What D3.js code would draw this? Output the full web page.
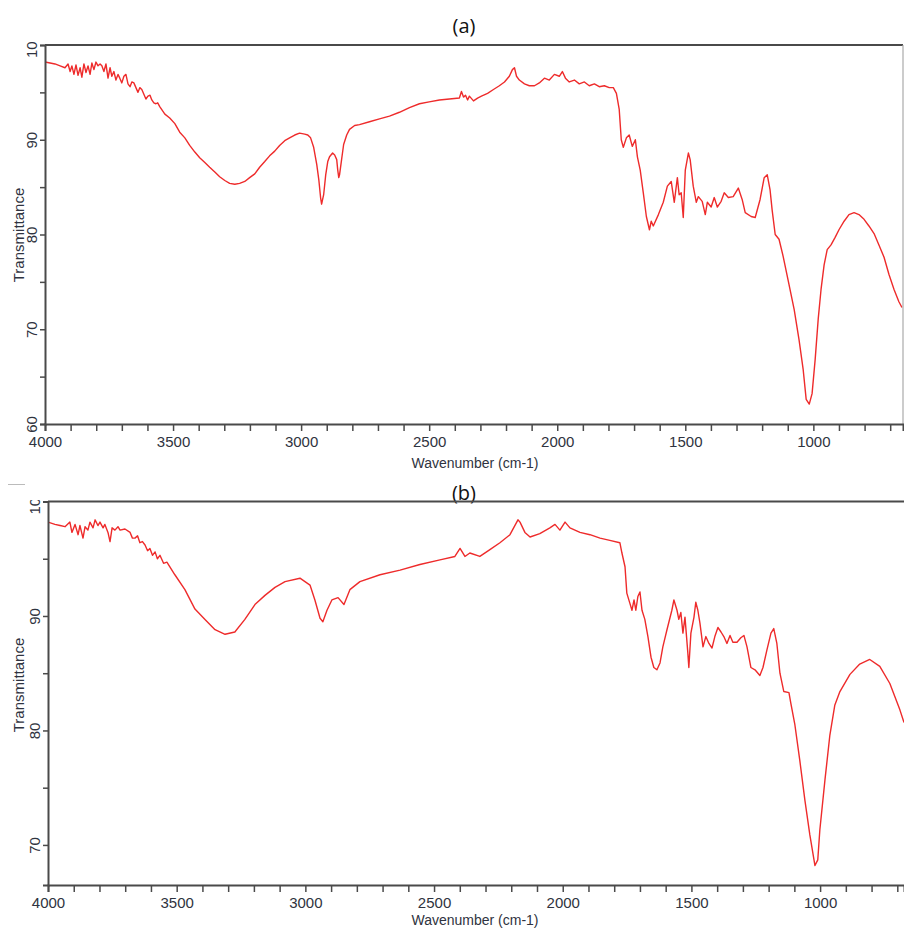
<!DOCTYPE html>
<html>
<head>
<meta charset="utf-8">
<script src="https://cdn.jsdelivr.net/npm/d3@7"></script>
<style>
  html, body { margin: 0; padding: 0; background: #fff; }
  svg { display: block; }
</style>
</head>
<body>
<svg id="chart" width="904" height="928"></svg>
<script>
// ---- Data ----
const wavenumberA = [4000,3980,3961,3941,3922,3910,3902,3895,3887,3879,3871,3863,3856,3848,3840,3832,3824,3817,3809,3801,3793,3785,3778,3770,3762,3754,3746,3739,3731,3723,3715,3708,3700,3692,3684,3676,3668,3661,3653,3645,3637,3630,3622,3614,3606,3598,3590,3583,3575,3567,3560,3552,3532,3513,3493,3474,3454,3435,3415,3396,3376,3357,3337,3318,3298,3279,3259,3240,3220,3201,3181,3162,3142,3123,3103,3084,3064,3045,3025,3006,2986,2974,2963,2951,2939,2931,2924,2920,2912,2904,2896,2889,2877,2869,2861,2857,2853,2850,2842,2834,2822,2811,2791,2772,2733,2694,2655,2616,2577,2538,2500,2460,2421,2382,2374,2366,2358,2350,2343,2327,2311,2296,2272,2249,2226,2206,2187,2175,2167,2159,2148,2128,2109,2089,2070,2050,2031,2011,1992,1980,1968,1953,1933,1914,1894,1875,1855,1836,1816,1797,1781,1769,1758,1750,1742,1730,1719,1707,1695,1687,1676,1664,1652,1640,1633,1625,1605,1586,1570,1555,1543,1531,1524,1516,1508,1500,1488,1481,1469,1457,1449,1434,1422,1414,1399,1387,1375,1360,1348,1332,1313,1293,1278,1266,1243,1227,1208,1192,1180,1169,1161,1149,1134,1118,1095,1075,1056,1040,1028,1016,1005,993,981,970,958,946,931,915,900,880,861,841,822,802,783,763,744,724,705,685,666,654];
const transmittanceA = [98.2,98.1,98.0,97.8,97.6,98.0,97.2,97.8,96.9,97.9,96.8,97.6,96.6,98.0,97.1,97.8,96.9,98.1,97.4,98.2,97.8,98.0,97.8,97.2,98.0,96.5,97.6,96.7,97.2,96.3,96.9,96.5,96.0,96.7,96.9,95.9,95.6,96.1,96.0,95.5,95.0,95.5,95.3,94.8,94.3,94.6,94.7,94.2,93.9,93.8,93.9,93.5,92.7,92.3,91.7,90.8,90.2,89.4,88.7,88.1,87.6,87.1,86.6,86.1,85.7,85.4,85.3,85.4,85.6,86.0,86.4,87.1,87.7,88.3,88.8,89.4,89.9,90.2,90.5,90.7,90.6,90.5,90.2,89.2,87.4,85.8,83.9,83.2,84.2,86.3,87.7,88.2,88.6,88.4,87.9,86.8,86.0,86.3,87.9,89.5,90.5,91.1,91.5,91.6,91.9,92.2,92.5,92.9,93.4,93.8,94.0,94.2,94.3,94.4,95.1,94.5,94.7,94.2,94.6,94.1,94.4,94.6,94.9,95.3,95.7,96.1,96.7,97.4,97.6,96.7,96.3,95.9,95.7,95.7,96.0,96.5,96.3,96.9,96.7,97.2,96.5,96.1,96.3,95.9,96.1,95.7,95.9,95.6,95.7,95.5,95.5,94.9,93.2,90.0,89.2,90.2,90.5,89.3,90.0,88.2,86.8,84.4,81.9,80.5,81.4,80.9,82.1,83.4,85.1,85.6,83.4,86.0,84.2,84.4,81.8,86.8,88.6,87.9,85.1,83.4,84.0,83.5,82.1,83.4,82.9,83.9,82.9,83.5,84.4,83.9,84.0,84.9,83.7,82.3,81.9,81.8,83.7,86.0,86.3,84.7,82.6,80.0,79.5,77.7,74.7,72.1,68.9,65.8,62.6,62.1,63.2,66.8,71.1,74.2,76.8,78.4,78.9,79.7,80.5,81.4,82.1,82.3,82.1,81.6,80.9,80.1,78.9,77.6,75.8,74.2,72.9,72.3];

const wavenumberB = [4000,3973,3953,3934,3915,3907,3895,3883,3876,3864,3856,3845,3837,3825,3817,3806,3798,3786,3779,3767,3759,3751,3740,3728,3720,3701,3681,3672,3662,3652,3643,3633,3623,3613,3604,3594,3584,3575,3565,3551,3538,3507,3468,3429,3390,3351,3312,3274,3235,3196,3157,3118,3079,3021,2982,2963,2943,2932,2916,2897,2873,2850,2827,2788,2710,2632,2555,2477,2419,2399,2380,2361,2322,2283,2244,2205,2174,2166,2147,2127,2089,2050,2030,2011,1991,1972,1933,1894,1855,1817,1778,1770,1758,1751,1739,1731,1723,1716,1708,1700,1692,1681,1669,1657,1646,1634,1622,1611,1595,1576,1568,1556,1549,1541,1533,1525,1514,1510,1502,1490,1483,1475,1467,1455,1444,1432,1420,1409,1397,1385,1374,1362,1350,1339,1323,1308,1296,1284,1269,1253,1234,1222,1207,1191,1180,1168,1156,1141,1121,1114,1098,1079,1059,1040,1020,1009,1001,981,962,943,923,884,846,807,768,729,690,674];
const transmittanceB = [98.2,98.0,97.9,97.8,98.2,97.3,98.0,97.1,97.9,96.8,97.8,97.5,98.2,97.7,98.4,97.9,98.2,97.7,98.0,97.3,96.5,97.7,97.5,97.8,97.5,97.6,97.3,96.8,96.8,97.0,96.4,96.5,96.2,95.7,95.9,95.3,95.6,95.0,95.3,94.6,94.7,93.6,92.3,90.6,89.7,88.8,88.4,88.6,89.7,91.0,91.8,92.5,93.0,93.3,92.7,91.4,89.8,89.5,90.5,91.4,91.6,91.0,92.3,93.0,93.6,94.0,94.5,94.9,95.2,95.9,95.2,95.5,95.2,95.8,96.4,97.1,98.4,98.2,97.3,96.9,97.2,97.7,98.0,97.5,98.2,97.7,97.3,97.1,96.8,96.6,96.4,95.5,94.3,92.0,91.1,90.5,91.4,90.5,91.7,92.1,90.5,89.7,88.2,86.4,85.5,85.3,85.9,87.3,88.8,90.5,91.4,90.5,89.7,90.3,88.5,89.9,86.8,85.5,88.5,89.9,91.2,90.5,89.4,87.3,88.2,87.6,87.2,88.2,89.0,88.6,88.2,87.6,88.3,87.7,87.7,88.1,88.3,87.3,85.5,85.3,84.8,85.5,87.0,88.5,88.9,87.6,85.0,83.4,83.3,82.4,80.5,77.4,73.9,70.9,68.2,68.7,71.3,75.7,79.6,82.2,83.4,84.9,85.8,86.2,85.6,84.1,81.8,80.7];

const xTickValues = [4000,3900,3800,3700,3600,3500,3400,3300,3200,3100,3000,2900,2800,2700,2600,2500,2400,2300,2200,2100,2000,1900,1800,1700,1600,1500,1400,1300,1200,1100,1000,900,800,700];
const xTickLabels = [4000,3500,3000,2500,2000,1500,1000];
const yTickValuesA = [60,65,70,75,80,85,90,95,100];
const yTickValuesB = [70,75,80,85,90,95,100];
const yTickLabels = [60,70,80,90,100];
const panelTitles = ["(a)","(b)"];
const xAxisTitle = "Wavenumber (cm-1)";
const yAxisTitle = "Transmittance";

// ---- Layout ----
const svg = d3.select("#chart");
const lineColor = "#ee2b2b";
const axisColor = "#4a4a4a";
const labelColor = "#2f3340";

const panels = [
  { id: "a", wn: wavenumberA, tr: transmittanceA, title: panelTitles[0],
    left: 45, right: 903, top: 45, bottom: 424, xDom: [4000, 650], yDom: [60, 100],
    yTicks: yTickValuesA, clipTop: 42, titleY: 33, xTitleY: 468, yTitleY: 235, rightBorder: true },
  { id: "b", wn: wavenumberB, tr: transmittanceB, title: panelTitles[1],
    left: 48, right: 904, top: 501.5, bottom: 885, xDom: [4000, 674], yDom: [66.5, 100],
    yTicks: yTickValuesB, clipTop: 500, titleY: 500, xTitleY: 925, yTitleY: 685, rightBorder: false }
];

svg.append("line").attr("x1", 8).attr("x2", 25).attr("y1", 484.5).attr("y2", 484.5)
  .attr("stroke", "#bbb").attr("stroke-width", 1);

panels.forEach(p => {
  const x = d3.scaleLinear().domain(p.xDom).range([p.left, p.right]);
  const y = d3.scaleLinear().domain(p.yDom).range([p.bottom, p.top]);
  const g = svg.append("g");

  // title
  g.append("text").attr("x", 464).attr("y", p.titleY).attr("text-anchor", "middle")
    .attr("font-family", "'Open Sans', 'Noto Sans', sans-serif").attr("font-size", 20)
    .attr("fill", "#111").text(p.title);

  // clip for data
  const clipId = "clip-" + p.id;
  svg.append("clipPath").attr("id", clipId).append("rect")
    .attr("x", p.left).attr("y", p.top - 2).attr("width", p.right - p.left + 2).attr("height", p.bottom - p.top + 2);

  // spectrum line
  const pts = p.wn.map((w, i) => [w, p.tr[i]]);
  g.append("path").datum(pts)
    .attr("clip-path", `url(#${clipId})`)
    .attr("fill", "none").attr("stroke", lineColor).attr("stroke-width", 1.4)
    .attr("stroke-linejoin", "round")
    .attr("d", d3.line().x(d => x(d[0])).y(d => y(d[1])));

  // top border
  g.append("line").attr("x1", p.left).attr("x2", p.right).attr("y1", p.top).attr("y2", p.top)
    .attr("stroke", axisColor).attr("stroke-width", 2);
  if (p.rightBorder) {
    g.append("line").attr("x1", p.right).attr("x2", p.right).attr("y1", p.top).attr("y2", p.bottom)
      .attr("stroke", "#aaa").attr("stroke-width", 1.2);
  }

  // x axis
  const xAxis = d3.axisBottom(x).tickValues(xTickValues).tickSize(7).tickPadding(5)
    .tickFormat(d => xTickLabels.includes(d) ? d : "");
  const gx = g.append("g").attr("transform", `translate(0,${p.bottom})`).call(xAxis);
  gx.select(".domain").attr("stroke", axisColor).attr("stroke-width", 2);
  gx.selectAll(".tick line").attr("stroke", axisColor).attr("stroke-width", 1.5);
  gx.selectAll(".tick text").attr("font-family", "'Liberation Sans', Arial, sans-serif")
    .attr("font-size", 15).attr("fill", labelColor);

  // y axis
  const yClip = "yclip-" + p.id;
  svg.append("clipPath").attr("id", yClip).append("rect")
    .attr("x", -60).attr("y", p.clipTop).attr("width", 80).attr("height", p.bottom - p.clipTop + 20);
  const yAxis = d3.axisLeft(y).tickValues(p.yTicks).tickSize(5)
    .tickFormat(d => yTickLabels.includes(d) ? d : "");
  const gy = g.append("g").attr("transform", `translate(${p.left},0)`).call(yAxis);
  gy.attr("clip-path", `url(#${yClip})`);
  gy.select(".domain").attr("stroke", axisColor).attr("stroke-width", 2);
  gy.selectAll(".tick line").attr("stroke", axisColor).attr("stroke-width", 1.5);
  gy.selectAll(".tick text")
    .attr("font-family", "'Liberation Sans', Arial, sans-serif")
    .attr("font-size", 15).attr("fill", labelColor)
    .attr("text-anchor", "middle").attr("x", null).attr("dy", null)
    .attr("transform", "translate(-8,0) rotate(-90)");

  // axis titles
  g.append("text").attr("x", 475).attr("y", p.xTitleY).attr("text-anchor", "middle")
    .attr("font-family", "'Liberation Sans', Arial, sans-serif").attr("font-size", 14)
    .attr("fill", labelColor).text(xAxisTitle);
  g.append("text").attr("transform", `translate(24,${p.yTitleY}) rotate(-90)`)
    .attr("text-anchor", "middle")
    .attr("font-family", "'Liberation Sans', Arial, sans-serif").attr("font-size", 15)
    .attr("fill", labelColor).text(yAxisTitle);
});
</script>
</body>
</html>
